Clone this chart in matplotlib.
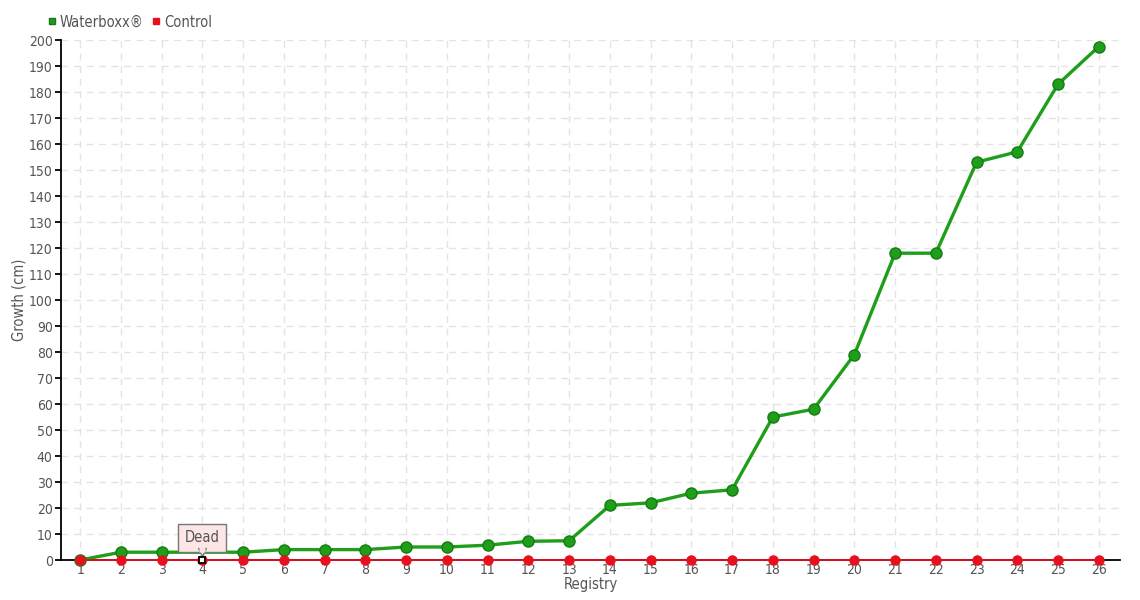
import matplotlib
matplotlib.use("Agg")
import matplotlib.pyplot as plt
import matplotlib.transforms as mtransforms
import numpy as np

plt.rcParams['font.family'] = ['DejaVu Sans']
plt.rcParams['font.stretch'] = 'condensed'

registry = list(range(1, 27))
waterboxx = [0, 3, 3, 3, 3, 4, 4, 4, 5, 5, 5.7, 7.2, 7.4, 21, 22, 25.7, 27,
             55, 58, 79, 118, 118, 153, 157, 183, 197.5]
control = [0] * 26
dead_idx = 3  # registry 4
dead_label = "Dead"

green = '#1f9e1a'
red = '#e8101e'
txt = '#555555'

fig = plt.figure(figsize=(11.4, 6), dpi=100)
ax = fig.add_axes([61 / 1140, 40 / 600, (1120 - 61) / 1140, 520 / 600])

ax.grid(True, color='#e4e4e4', linestyle=(0, (5, 4)), linewidth=1)
ax.set_axisbelow(True)

wb_marks = [i for i in range(len(registry)) if i != dead_idx]
ax.plot(registry, waterboxx, color=green, lw=2.4, marker='o', ms=8,
        mfc=green, mec='#187a14', mew=1, markevery=wb_marks, zorder=3,
        label='Waterboxx®', clip_on=False)
ax.plot(registry, control, color=red, lw=1.3, marker='o', ms=6.5,
        mfc=red, mec=red, zorder=4, label='Control', clip_on=False)
ax.plot(registry[dead_idx], control[dead_idx], marker='s', ms=5,
        mfc='white', mec='black', mew=1.3, zorder=8, ls='none', clip_on=False)

# callout box with pointer
ax.annotate(dead_label, xy=(registry[dead_idx], control[dead_idx]),
            xytext=(0, 10.5), textcoords='offset points', ha='center', va='bottom',
            fontsize=10.5, color=txt,
            bbox=dict(boxstyle='square,pad=0.45', fc='#fde6e6', ec='#777777', lw=1),
            zorder=7, annotation_clip=False)
ptr = mtransforms.offset_copy(ax.transData, fig=fig, x=0, y=6, units='points')
ax.plot(registry[dead_idx], control[dead_idx], marker='v', ms=6, mfc='#fde6e6',
        mec='#777777', mew=1, transform=ptr, zorder=7, clip_on=False)
ptr2 = mtransforms.offset_copy(ax.transData, fig=fig, x=0, y=7.6, units='points')
ax.plot(registry[dead_idx], control[dead_idx], marker='s', ms=4.5, mfc='#fde6e6',
        mec='none', transform=ptr2, zorder=7.5, clip_on=False)

ax.set_xlim(0.53, 26.52)
ax.set_ylim(0, 200)
ax.set_xticks(registry)
ax.set_yticks(np.arange(0, 201, 10))
ax.tick_params(axis='x', length=0, pad=2, labelsize=10, labelcolor=txt)
ax.tick_params(axis='y', length=4, width=1.3, direction='out', pad=2,
               labelsize=10, labelcolor=txt)
for s in ['top', 'right']:
    ax.spines[s].set_visible(False)
for s in ['left', 'bottom']:
    ax.spines[s].set_color('black')
    ax.spines[s].set_linewidth(1.3)
    ax.spines[s].set_zorder(2)

ax.set_xlabel('Registry', fontsize=10.5, color=txt, labelpad=0.5)
ax.set_ylabel('Growth (cm)', fontsize=10.5, color=txt)
ax.yaxis.set_label_coords(-0.033, 0.5)

leg = ax.legend(loc='lower left', bbox_to_anchor=(-0.012, 1.02), ncol=2,
                frameon=False, fontsize=10.5, handlelength=0.5, handletextpad=0.3,
                columnspacing=0.6, borderpad=0, borderaxespad=0)
for h in leg.legend_handles:
    h.set_linestyle('none')
    h.set_marker('s')
    h.set_markersize(5)
for t in leg.get_texts():
    t.set_color(txt)

fig.savefig('out.png', dpi=100)
